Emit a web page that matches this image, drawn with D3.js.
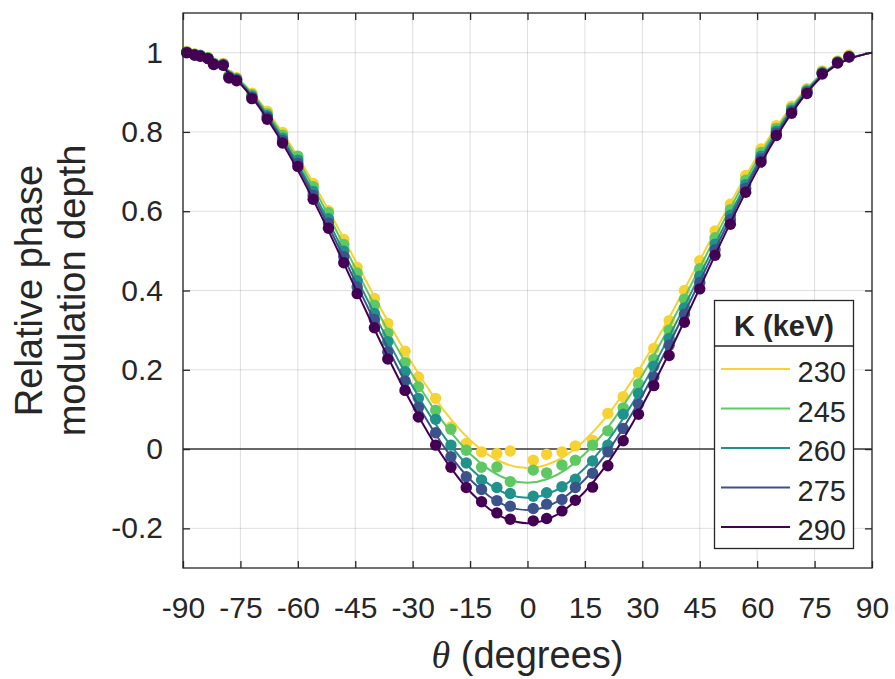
<!DOCTYPE html>
<html>
<head>
<meta charset="utf-8">
<script src="https://cdn.jsdelivr.net/npm/d3@7"></script>
<style>
body{margin:0;background:#fff;}
text{font-family:"Liberation Sans",Arial,sans-serif;fill:#262626;}
</style>
</head>
<body>
<svg id="chart" width="895" height="679"></svg>
<script>

// measured angles (degrees), shared by all five energies
var theta = [-89,-87,-85.5,-83.5,-82,-79.5,-78,-76,-72,-68,-64,-60,-56,-52,-48,-44.5,-40,-36.5,-32,-28.5,-24,-20,-16,-12,-8,-4.5,
	1.5,5,9,12.5,17,21,25,29,33,37,41,45,49,53,57,61,65,69,73,77,81,84];

var k230 = [1.003,0.997,0.994,0.988,0.974,0.973,0.943,0.937,0.898,0.852,0.799,0.736,0.670,0.601,0.529,0.458,0.380,0.317,0.247,0.182,0.128,0.056,0.014,-0.007,-0.011,-0.005,
	-0.028,-0.013,-0.007,0.008,0.022,0.090,0.132,0.193,0.254,0.324,0.400,0.475,0.550,0.618,0.690,0.757,0.816,0.865,0.909,0.954,0.979,0.994];
var k245 = [1.002,0.996,0.993,0.987,0.973,0.971,0.941,0.935,0.894,0.846,0.792,0.739,0.662,0.596,0.516,0.444,0.363,0.292,0.218,0.157,0.098,0.050,-0.003,-0.046,-0.045,-0.082,
	-0.053,-0.060,-0.040,-0.028,0.010,0.046,0.104,0.164,0.227,0.300,0.378,0.455,0.533,0.604,0.678,0.748,0.809,0.860,0.906,0.951,0.977,0.991];
var k260 = [1.000,0.995,0.992,0.986,0.972,0.970,0.939,0.933,0.890,0.841,0.784,0.729,0.650,0.581,0.499,0.425,0.342,0.271,0.195,0.128,0.075,0.010,-0.035,-0.078,-0.097,-0.112,
	-0.119,-0.110,-0.095,-0.076,-0.030,0.010,0.088,0.140,0.209,0.279,0.356,0.436,0.517,0.590,0.667,0.739,0.802,0.855,0.903,0.949,0.976,0.990];
var k275 = [1.000,0.994,0.992,0.985,0.971,0.969,0.938,0.931,0.887,0.837,0.778,0.721,0.640,0.570,0.485,0.409,0.327,0.245,0.172,0.105,0.041,-0.019,-0.070,-0.102,-0.130,-0.144,
	-0.150,-0.139,-0.127,-0.097,-0.061,-0.007,0.052,0.113,0.182,0.262,0.340,0.420,0.503,0.579,0.658,0.732,0.797,0.851,0.900,0.948,0.975,0.990];
var k290 = [1.000,0.994,0.991,0.985,0.970,0.968,0.936,0.929,0.884,0.832,0.772,0.713,0.630,0.557,0.470,0.392,0.306,0.227,0.148,0.081,0.010,-0.046,-0.097,-0.133,-0.161,-0.177,
	-0.181,-0.175,-0.156,-0.129,-0.096,-0.042,0.021,0.088,0.160,0.236,0.320,0.404,0.489,0.567,0.648,0.724,0.791,0.847,0.897,0.946,0.974,0.989];

// fitted curves, read every 10 degrees
var fitTheta = [-90,-80,-70,-60,-50,-40,-30,-20,-10,0,10,20,30,40,50,60,70,80,90];
var fit230 = [1,0.968,0.877,0.738,0.567,0.385,0.214,0.075,-0.016,-0.048,-0.016,0.075,0.214,0.385,0.567,0.738,0.877,0.968,1];
var fit245 = [1,0.967,0.873,0.729,0.552,0.363,0.186,0.042,-0.052,-0.085,-0.052,0.042,0.186,0.363,0.552,0.729,0.873,0.967,1];
var fit260 = [1,0.966,0.869,0.719,0.536,0.341,0.158,0.008,-0.089,-0.123,-0.089,0.008,0.158,0.341,0.536,0.719,0.869,0.966,1];
var fit275 = [1,0.965,0.865,0.712,0.523,0.323,0.135,-0.019,-0.119,-0.154,-0.119,-0.019,0.135,0.323,0.523,0.712,0.865,0.965,1];
var fit290 = [1,0.964,0.861,0.703,0.510,0.303,0.110,-0.048,-0.151,-0.187,-0.151,-0.048,0.110,0.303,0.510,0.703,0.861,0.964,1];

var kLabels = ["230","245","260","275","290"];
var xTicks = [-90,-75,-60,-45,-30,-15,0,15,30,45,60,75,90];
var yTicks = [-0.2,0,0.2,0.4,0.6,0.8,1];

var dots = [k230,k245,k260,k275,k290];
var fits = [fit230,fit245,fit260,fit275,fit290];
var colors = ["#F6D232","#5EC962","#21918C","#3B528B","#440154"];

var plotL = 183, plotR = 872, plotT = 13, plotB = 568;

var svg = d3.select("#chart");
var x = d3.scaleLinear().domain([-90,90]).range([plotL,plotR]);
var y = d3.scaleLinear().domain([-0.3,1.1]).range([plotB,plotT]);

// grid
svg.append("g").selectAll("line").data(xTicks).enter().append("line")
	.attr("x1",function(d){return x(d);}).attr("x2",function(d){return x(d);})
	.attr("y1",plotT).attr("y2",plotB)
	.attr("stroke","#262626").attr("stroke-opacity",0.15).attr("stroke-width",1);
svg.append("g").selectAll("line").data(yTicks).enter().append("line")
	.attr("x1",plotL).attr("x2",plotR)
	.attr("y1",function(d){return y(d);}).attr("y2",function(d){return y(d);})
	.attr("stroke","#262626").attr("stroke-opacity",0.15).attr("stroke-width",1);

// zero line
svg.append("line").attr("x1",plotL).attr("x2",plotR).attr("y1",y(0)).attr("y2",y(0))
	.attr("stroke","#3a3a3a").attr("stroke-width",1.5);

var line = d3.line().x(function(d){return x(d[0]);}).y(function(d){return y(d[1]);}).curve(d3.curveNatural);

dots.forEach(function(vals,i){
	var g = svg.append("g");
	g.append("path").datum(d3.zip(fitTheta,fits[i])).attr("d",line)
		.attr("fill","none").attr("stroke",colors[i]).attr("stroke-width",2);
	g.selectAll("circle").data(d3.zip(theta,vals)).enter().append("circle")
		.attr("cx",function(d){return x(d[0]);}).attr("cy",function(d){return y(d[1]);})
		.attr("r",5.7).attr("fill",colors[i]);
});

// axes, ticks pointing inward on all four sides
function styleAxis(g){
	g.select(".domain").remove();
	g.selectAll(".tick line").attr("stroke","#262626").attr("stroke-width",1.3);
	g.selectAll(".tick text").attr("font-size",30).attr("fill","#262626")
		.attr("font-family","'Liberation Sans',Arial,sans-serif");
}
var fmt = function(d){return String(d).replace("\u2212","-");};

svg.append("g").attr("transform","translate(0,"+plotB+")")
	.call(d3.axisBottom(x).tickValues(xTicks).tickSizeInner(-7).tickSizeOuter(0).tickPadding(29).tickFormat(fmt))
	.call(styleAxis);
svg.append("g").attr("transform","translate(0,"+plotT+")")
	.call(d3.axisTop(x).tickValues(xTicks).tickSizeInner(-7).tickSizeOuter(0).tickFormat(""))
	.call(styleAxis);
svg.append("g").attr("transform","translate("+plotL+",0)")
	.call(d3.axisLeft(y).tickValues(yTicks).tickSizeInner(-7).tickSizeOuter(0).tickPadding(20).tickFormat(fmt))
	.call(styleAxis);
svg.append("g").attr("transform","translate("+plotR+",0)")
	.call(d3.axisRight(y).tickValues(yTicks).tickSizeInner(-7).tickSizeOuter(0).tickFormat(""))
	.call(styleAxis);

svg.append("rect").attr("x",plotL).attr("y",plotT).attr("width",plotR-plotL).attr("height",plotB-plotT)
	.attr("fill","none").attr("stroke","#262626").attr("stroke-width",1.3);

// axis labels
var xl = svg.append("text").attr("x",(plotL+plotR)/2).attr("y",668).attr("text-anchor","middle").attr("font-size",38);
xl.append("tspan").attr("font-family","'Liberation Serif','Times New Roman',serif").attr("font-style","italic").text("\u03B8");
xl.append("tspan").text(" (degrees)");

var yl = svg.append("g").attr("transform","rotate(-90)");
yl.append("text").attr("x",-(plotT+plotB)/2).attr("y",42).attr("text-anchor","middle").attr("font-size",38).text("Relative phase");
yl.append("text").attr("x",-(plotT+plotB)/2).attr("y",85).attr("text-anchor","middle").attr("font-size",38).text("modulation depth");

// legend
var lg = svg.append("g");
lg.append("rect").attr("x",714.5).attr("y",300.5).attr("width",139).attr("height",248)
	.attr("fill","#fff").attr("stroke","#262626").attr("stroke-width",1.3);
lg.append("line").attr("x1",714.5).attr("x2",853.5).attr("y1",346).attr("y2",346)
	.attr("stroke","#262626").attr("stroke-width",1.3);
lg.append("text").attr("x",784).attr("y",335.5).attr("text-anchor","middle")
	.attr("font-size",29).attr("font-weight","bold").attr("fill","#000").text("K (keV)");
var item = lg.selectAll("g.item").data(kLabels).enter().append("g").attr("class","item")
	.attr("transform",function(d,i){return "translate(0,"+(369+i*39.5)+")";});
item.append("line").attr("x1",721).attr("x2",790).attr("y1",0).attr("y2",0)
	.attr("stroke",function(d,i){return colors[i];}).attr("stroke-width",2);
item.append("text").attr("x",846).attr("y",13).attr("text-anchor","end").attr("font-size",29)
	.attr("fill","#000").text(function(d){return d;});

</script>
</body>
</html>
